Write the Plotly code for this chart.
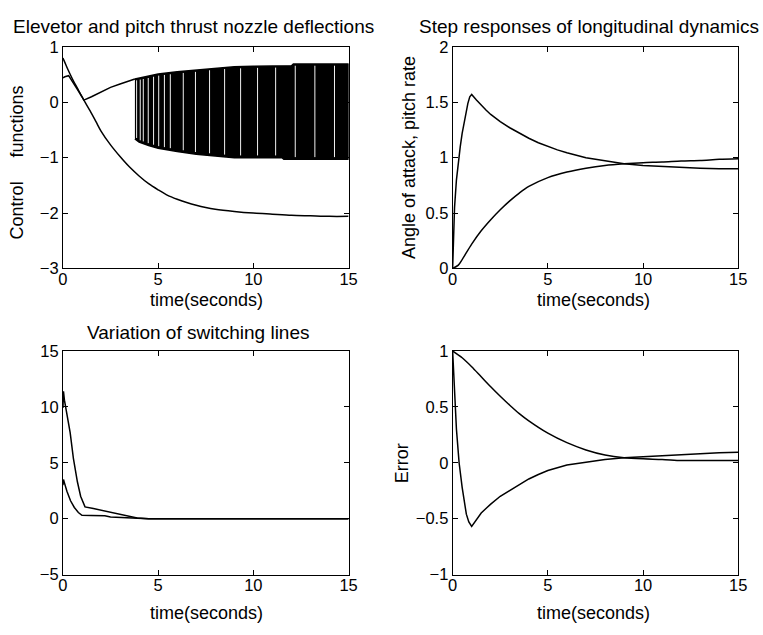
import numpy as np
import plotly.graph_objects as go

FONT = "Liberation Sans, Arial, Helvetica, sans-serif"

# ---------------- data ----------------
# Panel 1: control functions
ctrl_a_t = [0, 0.1, 0.25, 0.5, 0.75, 1.0, 1.25, 1.5, 1.75, 2, 2.5, 3, 3.5, 4, 4.5, 5, 5.5, 6, 6.5,
            7, 7.5, 8, 9, 10, 11, 12, 13, 14, 15]
ctrl_a_v = [0.8, 0.72, 0.6, 0.42, 0.26, 0.1, -0.05, -0.2, -0.36, -0.52, -0.77, -0.98, -1.17, -1.33,
            -1.47, -1.58, -1.68, -1.75, -1.81, -1.86, -1.9, -1.93, -1.97, -2.0, -2.02, -2.04, -2.05,
            -2.06, -2.06]
ctrl_b_t = [0, 0.1, 0.3, 0.5, 0.75, 1.0, 1.1, 1.5, 2, 2.5, 3, 3.5, 3.78]
ctrl_b_v = [0.44, 0.46, 0.48, 0.38, 0.24, 0.1, 0.04, 0.1, 0.19, 0.27, 0.33, 0.38, 0.42]
# chattering band envelopes
band_up_t = [3.78, 4.5, 5, 6, 7, 8, 9, 10, 12, 12.1, 15]
band_up_v = [0.42, 0.47, 0.51, 0.55, 0.58, 0.62, 0.64, 0.65, 0.66, 0.69, 0.69]
band_lo_t = [3.78, 4, 4.5, 5, 6, 7, 8, 9, 11.5, 11.6, 15]
band_lo_v = [-0.66, -0.72, -0.78, -0.83, -0.89, -0.94, -0.97, -1.0, -1.0, -1.03, -1.03]
band_gap_t = [3.87, 4.06, 4.22, 4.48, 4.76, 5.03, 5.33, 5.64, 6.32, 6.96, 7.70, 8.49,
              9.33, 10.22, 11.17, 12.20, 13.23, 14.26]

# Panel 2: step responses
pitch_t = [0, 0.05, 0.1, 0.2, 0.3, 0.4, 0.5, 0.6, 0.7, 0.8, 0.9, 1.0, 1.25, 1.5, 1.75, 2, 2.5, 3,
           3.5, 4, 4.5, 5, 5.5, 6, 6.5, 7, 7.5, 8, 9, 10, 11, 12, 13, 14, 15]
pitch_v = [0, 0.3, 0.55, 0.8, 0.97, 1.1, 1.22, 1.32, 1.41, 1.49, 1.55, 1.57, 1.52, 1.47, 1.43,
           1.39, 1.325, 1.27, 1.22, 1.175, 1.135, 1.10, 1.07, 1.045, 1.02, 1.0, 0.985, 0.97, 0.945,
           0.93, 0.92, 0.91, 0.905, 0.9, 0.9]
aoa_t = [0, 0.3, 0.5, 1, 1.5, 2, 2.5, 3, 3.5, 4, 5, 6, 7, 8, 9, 10, 11, 12, 13, 14, 15]
aoa_v = [0, 0.03, 0.08, 0.22, 0.34, 0.44, 0.53, 0.61, 0.68, 0.74, 0.82, 0.87, 0.905, 0.93, 0.945,
         0.955, 0.96, 0.97, 0.975, 0.985, 0.99]

# Panel 3: switching lines
sw1_t = [0, 0.03, 0.08, 0.15, 0.24, 0.38, 0.55, 0.76, 0.93, 1.16, 1.6, 2, 2.5, 3, 3.5, 3.9, 4.5, 15]
sw1_v = [9.9, 11.4, 10.6, 9.9, 9.2, 7.7, 5.4, 3.3, 2.0, 1.05, 0.9, 0.75, 0.55, 0.4, 0.2, 0.05, 0, 0]
sw2_t = [0, 0.03, 0.08, 0.21, 0.4, 0.6, 0.81, 1.0, 1.5, 2.2, 2.5, 3.3, 3.9, 4.5, 15]
sw2_v = [3.0, 3.5, 3.2, 2.45, 1.6, 1.0, 0.55, 0.3, 0.27, 0.25, 0.15, 0.1, 0.05, 0, 0]

# Panel 4: error
err1_t = [0, 0.5, 1, 1.5, 2, 2.5, 3, 3.5, 4, 5, 6, 7, 8, 9, 10, 11, 12, 13, 14, 15]
err1_v = [1.0, 0.94, 0.86, 0.77, 0.68, 0.595, 0.515, 0.44, 0.375, 0.265, 0.18, 0.115, 0.07, 0.045,
          0.035, 0.03, 0.02, 0.02, 0.02, 0.02]
err2_t = [0, 0.05, 0.1, 0.2, 0.34, 0.5, 0.72, 0.85, 1.0, 1.25, 1.5, 1.75, 2, 2.5, 3, 3.5, 4, 4.5,
          5, 5.5, 6, 7, 8, 9, 10, 11, 12, 13, 14, 15]
err2_v = [1.0, 0.8, 0.55, 0.3, 0.0, -0.22, -0.46, -0.53, -0.57, -0.51, -0.45, -0.41, -0.37, -0.3,
          -0.25, -0.2, -0.145, -0.105, -0.07, -0.045, -0.02, 0.005, 0.03, 0.045, 0.055, 0.065,
          0.075, 0.085, 0.09, 0.095]

# tick labels
x_ticks = [0, 5, 10, 15]
x_tick_text = ["0", "5", "10", "15"]
y1_ticks = [-3, -2, -1, 0, 1]
y1_tick_text = ["\u22123", "\u22122", "\u22121", "0", "1"]
y2_ticks = [0, 0.5, 1, 1.5, 2]
y2_tick_text = ["0", "0.5", "1", "1.5", "2"]
y3_ticks = [-5, 0, 5, 10, 15]
y3_tick_text = ["\u22125", "0", "5", "10", "15"]
y4_ticks = [-1, -0.5, 0, 0.5, 1]
y4_tick_text = ["\u22121", "\u22120.5", "0", "0.5", "1"]

titles = ["Elevetor and pitch thrust nozzle deflections",
          "Step responses of longitudinal dynamics",
          "Variation of switching lines"]
x_title = "time(seconds)"

# ---------------- figure ----------------
W, H = 763, 635
fig = go.Figure()


def line(t, v, xa, ya, w=1.5, shape="linear"):
    fig.add_trace(go.Scatter(x=t, y=v, mode="lines",
                             line=dict(color="black", width=w, shape=shape, smoothing=0.8),
                             xaxis=xa, yaxis=ya, showlegend=False, hoverinfo="skip"))


# Panel 1
band_x = list(band_up_t) + list(band_lo_t[::-1])
band_y = list(band_up_v) + list(band_lo_v[::-1])
fig.add_trace(go.Scatter(x=band_x, y=band_y, mode="lines", fill="toself", fillcolor="black",
                         line=dict(color="black", width=1.5), xaxis="x", yaxis="y",
                         showlegend=False, hoverinfo="skip"))
gx, gy = [], []
for t in band_gap_t:
    top = float(np.interp(t, band_up_t, band_up_v)) - 0.03
    bot = float(np.interp(t, band_lo_t, band_lo_v)) + 0.04
    gx += [t, t, None]
    gy += [top, bot, None]
fig.add_trace(go.Scatter(x=gx, y=gy, mode="lines", line=dict(color="#f0f0f0", width=1),
                         xaxis="x", yaxis="y", showlegend=False, hoverinfo="skip"))
line(ctrl_a_t, ctrl_a_v, "x", "y", shape="spline")
line(ctrl_b_t, ctrl_b_v, "x", "y")

# Panel 2
line(pitch_t, pitch_v, "x2", "y2")
line(aoa_t, aoa_v, "x2", "y2", shape="spline")

# Panel 3
line(sw1_t, sw1_v, "x3", "y3")
line(sw2_t, sw2_v, "x3", "y3")

# Panel 4
line(err1_t, err1_v, "x4", "y4", shape="spline")
line(err2_t, err2_v, "x4", "y4")


def px_x(p):
    return p / W


def px_y(p):
    return (H - p) / H


xd_left = [px_x(59), px_x(350)]
xd_right = [px_x(456), px_x(747)]
yd_top = [px_y(267), px_y(39)]
yd_bot = [px_y(582), px_y(352)]

TICKFONT = dict(family=FONT, size=16.5, color="black")


def xaxis(domain, anchor):
    return dict(domain=domain, anchor=anchor, range=[0, 15], tickvals=x_ticks, ticktext=x_tick_text,
                ticks="inside", ticklen=5, tickcolor="black", tickwidth=1, ticklabelstandoff=-4,
                showline=True, linecolor="black", linewidth=1, mirror="ticks",
                showgrid=False, zeroline=False, tickfont=TICKFONT, fixedrange=True)


def yaxis(domain, anchor, rng, tv, tt):
    return dict(domain=domain, anchor=anchor, range=rng, tickvals=tv, ticktext=tt,
                ticks="inside", ticklen=5, tickcolor="black", tickwidth=1,
                showline=True, linecolor="black", linewidth=1, mirror="ticks",
                showgrid=False, zeroline=False, tickfont=TICKFONT, fixedrange=True)


annotations = []


def ann(text, xp, yp, size=18, angle=0):
    annotations.append(dict(text=text, x=px_x(xp), y=px_y(yp), xref="paper", yref="paper",
                            xanchor="center", yanchor="middle", showarrow=False, textangle=angle,
                            font=dict(family=FONT, size=size, color="black")))


ann(titles[0], 192, 18, size=19)
ann(titles[1], 595, 18, size=19)
ann(titles[2], 196.5, 333, size=19)
ann(x_title, 205, 300)
ann(x_title, 600, 300)
ann(x_title, 205, 622)
ann(x_title, 600, 622)
ann("Control", 12, 207.5, angle=-90)
ann("functions", 12, 116, angle=-90)
ann("Angle of attack, pitch rate", 411, 153, angle=-90)
ann("Error", 404, 468, angle=-90)

fig.update_layout(
    width=W, height=H, margin=dict(l=0, r=0, t=0, b=0),
    paper_bgcolor="white", plot_bgcolor="white", showlegend=False,
    xaxis=xaxis(xd_left, "y"), yaxis=yaxis(yd_top, "x", [-3, 1], y1_ticks, y1_tick_text),
    xaxis2=xaxis(xd_right, "y2"), yaxis2=yaxis(yd_top, "x2", [0, 2], y2_ticks, y2_tick_text),
    xaxis3=xaxis(xd_left, "y3"), yaxis3=yaxis(yd_bot, "x3", [-5, 15], y3_ticks, y3_tick_text),
    xaxis4=xaxis(xd_right, "y4"), yaxis4=yaxis(yd_bot, "x4", [-1, 1], y4_ticks, y4_tick_text),
    annotations=annotations,
)

fig.write_html("out.html")
